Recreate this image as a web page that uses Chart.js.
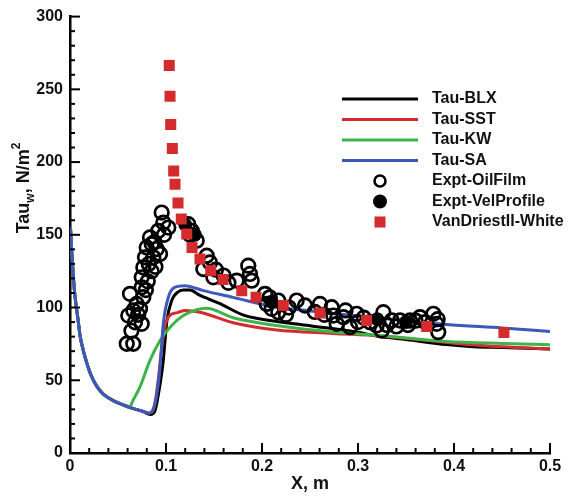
<!DOCTYPE html>
<html>
<head>
<meta charset="utf-8">
<script src="https://cdn.jsdelivr.net/npm/chart.js@4/dist/chart.umd.min.js"></script>
<style>
html,body{margin:0;padding:0;background:#fff}
</style>
</head>
<body>
<canvas id="graphe" width="573" height="496"></canvas>
<script>
// valeurs (x en m, tau en N/m2)
const descente = [[0.0005,155],[0.002,136],[0.0035,121],[0.005,109],[0.0083,92],[0.0104,81],[0.014,70],[0.0174,62],[0.0222,53],[0.0278,46],[0.0347,40.5],[0.045,36],[0.0556,33]]
const finSA = [[0.066,30.5],[0.0764,28.5],[0.0825,27.3],[0.0885,34],[0.0915,45],[0.0938,59],[0.0972,89],[0.1024,107],[0.1094,114],[0.1198,115],[0.1389,111.6],[0.17,107],[0.2153,100.2],[0.2465,98],[0.3,94],[0.35,91],[0.3924,88.4],[0.45,86],[0.5,83.6]]
const finBLX = [[0.066,30.5],[0.0764,28.5],[0.0835,26.5],[0.0885,29],[0.092,40],[0.0969,62],[0.101,91],[0.106,105],[0.112,110.5],[0.118,112],[0.125,112],[0.135,108.5],[0.155,103],[0.18,95],[0.2,92],[0.25,87.5],[0.3,83],[0.323,80],[0.35,78],[0.392,74.5],[0.42,73],[0.45,72.5],[0.5,71.5]]
const finSST = [[0.066,30.5],[0.0764,28.5],[0.083,27.5],[0.0875,31],[0.0915,48],[0.0955,72],[0.099,87],[0.103,94],[0.112,96.5],[0.12,98],[0.1354,96.8],[0.17,89.5],[0.2153,84.5],[0.274,82.2],[0.323,80.5],[0.4,75.5],[0.45,73],[0.5,71.5]]
const finKW = [[0.0625,32],[0.0655,36],[0.0729,45.4],[0.0833,63.7],[0.0938,77.4],[0.1042,86.5],[0.118,94.5],[0.132,98.5],[0.142,99.5],[0.17,93],[0.2222,87],[0.2743,83.2],[0.323,80.8],[0.392,76.7],[0.45,75.3],[0.5,74.5]]

const oilFilm = [[0.0591,75.1],[0.0659,75.1],[0.0625,109.4],[0.0607,94.5],[0.0695,102.5],[0.0677,89.9],[0.0747,88.8],[0.0729,99.1],[0.0764,107.1],[0.0747,113.9],[0.0747,120.8],[0.0764,127.6],[0.0781,134.5],[0.0799,141.3],[0.0851,143.6],[0.0903,140.2],[0.0938,136.8],[0.0868,134.5],[0.0833,148.2],[0.092,152.7],[0.0955,165.3],[0.0972,158.4],[0.1024,155],[0.1232,157.3],[0.1268,152.7],[0.1424,135.6],[0.1458,131],[0.1389,126.5],[0.1493,120.8],[0.1857,128.8],[0.1875,123.1],[0.1893,118.5],[0.1736,118.5],[0.2031,109.4],[0.2049,102.5],[0.2101,99.1],[0.217,104.8],[0.217,96.8],[0.2361,104.8],[0.2448,101.4],[0.2604,102.5],[0.2726,100.2],[0.2743,94.5],[0.2778,88.8],[0.2847,93.4],[0.2917,86.5],[0.2986,95.7],[0.3125,89.9],[0.3195,87.7],[0.3264,96.8],[0.3247,84.2],[0.3351,91.1],[0.3438,91.1],[0.3542,91.1],[0.3646,93.4],[0.3785,95.7],[0.3819,88.8],[0.3836,83.1],[0.125,150],[0.16,122],[0.165,117],[0.225,95],[0.255,97],[0.3,90],[0.33,88],
  [0.082,130],[0.085,125],[0.089,128],[0.081,118],[0.079,112],[0.071,95],[0.066,98],[0.064,84],[0.088,145],[0.098,150],[0.132,146],[0.152,126],[0.208,107],[0.228,100],[0.265,95],[0.287,98],[0.306,93],[0.34,87],[0.352,88],[0.36,91],[0.37,90],[0.383,92]]
const velProfile = [[0.12,157],[0.13,150],[0.21,104],[0.32,92],[0.35,90]]
const vanDriest = [[0.1034,266.4],[0.1042,245.2],[0.1049,225.8],[0.1066,209.4],[0.108,193.8],[0.1094,184.7],[0.1125,171.9],[0.1159,160.8],[0.1216,150.5],[0.1271,141.3],[0.1354,133.4],[0.1466,125.3],[0.1594,119.2],[0.1789,111.6],[0.1938,107.1],[0.2222,101.4],[0.2604,96.2],[0.309,91.1],[0.3716,87],[0.452,82.9]]

const noir = '#000000', rouge = '#d42c2c', vert = '#3fb24a', bleu = '#3b58bd'
const police = "'Liberation Sans', Arial, sans-serif"

const versPoints = tab => tab.map(p => ({x: p[0], y: p[1]}))

const ligne = (label, pts, couleur, ordre) => ({
  label: label, data: versPoints(pts), showLine: true, borderColor: couleur,
  borderWidth: 3, pointRadius: 0, cubicInterpolationMode: 'monotone', order: ordre, fill: false
})

// petits traits de graduation vers l'interieur
const graduations = {
  id: 'graduations',
  afterDatasetsDraw(chart) {
    const ctx = chart.ctx
    const sx = chart.scales.x, sy = chart.scales.y
    ctx.save()
    ctx.strokeStyle = '#000'
    ctx.lineWidth = 2
    for (let i = 0; i <= 25; i++) {
      const px = sx.getPixelForValue(i * 0.02)
      const l = i % 5 == 0 ? 10 : 5
      ctx.beginPath(); ctx.moveTo(px, sy.bottom); ctx.lineTo(px, sy.bottom - l); ctx.stroke()
    }
    for (let i = 0; i <= 30; i++) {
      const py = sy.getPixelForValue(i * 10)
      const l = i % 5 == 0 ? 10 : 5
      ctx.beginPath(); ctx.moveTo(sx.left, py); ctx.lineTo(sx.left + l, py); ctx.stroke()
    }
    ctx.restore()
  }
}

// titre axe y avec indice et exposant
const titreY = {
  id: 'titreY',
  afterDraw(chart) {
    const ctx = chart.ctx
    const grand = 'bold 18px ' + police, petit = 'bold 12px ' + police
    const morceaux = [['Tau', grand, 0], ['w', petit, 5], [', N/m', grand, 0], ['2', petit, -9]]
    let total = 0
    morceaux.forEach(m => { ctx.font = m[1]; total += ctx.measureText(m[0]).width })
    ctx.save()
    ctx.translate(22, 188)
    ctx.rotate(-Math.PI / 2)
    ctx.fillStyle = '#111'
    ctx.textBaseline = 'alphabetic'
    let x = -total / 2
    morceaux.forEach(m => {
      ctx.font = m[1]
      ctx.fillText(m[0], x, 7 + m[2])
      x += ctx.measureText(m[0]).width
    })
    ctx.restore()
  }
}

// legende dans le graphe
const legende = {
  id: 'legende',
  afterDraw(chart) {
    const ctx = chart.ctx
    const entrees = [
      ['Tau-BLX', 'ligne', noir], ['Tau-SST', 'ligne', rouge], ['Tau-KW', 'ligne', vert], ['Tau-SA', 'ligne', bleu],
      ['Expt-OilFilm', 'rond', noir], ['Expt-VelProfile', 'plein', noir], ['VanDriestII-White', 'carre', rouge]
    ]
    ctx.save()
    ctx.font = 'bold 16px ' + police
    ctx.textBaseline = 'middle'
    entrees.forEach((e, i) => {
      const y = 99 + i * 20.5
      if (e[1] == 'ligne') {
        ctx.strokeStyle = e[2]; ctx.lineWidth = 3
        ctx.beginPath(); ctx.moveTo(342, y); ctx.lineTo(418, y); ctx.stroke()
      } else if (e[1] == 'rond') {
        ctx.strokeStyle = '#000'; ctx.lineWidth = 2.6
        ctx.beginPath(); ctx.arc(380, y, 5.5, 0, 2 * Math.PI); ctx.stroke()
      } else if (e[1] == 'plein') {
        ctx.fillStyle = '#000'
        ctx.beginPath(); ctx.arc(380, y, 7, 0, 2 * Math.PI); ctx.fill()
      } else {
        ctx.fillStyle = rouge
        ctx.fillRect(374.5, y - 5.5, 11, 11)
      }
      ctx.fillStyle = '#111'
      ctx.fillText(e[0], 432, y)
    })
    ctx.restore()
  }
}

const graphe = new Chart(document.getElementById('graphe'), {
  type: 'scatter',
  data: {
    datasets: [
      {label: 'VanDriestII-White', data: versPoints(vanDriest), pointStyle: 'rect', pointRadius: 7.8, backgroundColor: rouge, borderColor: rouge, borderWidth: 0, order: 0},
      {label: 'Expt-VelProfile', data: versPoints(velProfile), pointRadius: 7, backgroundColor: '#000', borderColor: '#000', borderWidth: 0, order: 1},
      {label: 'Expt-OilFilm', data: versPoints(oilFilm), pointRadius: 6.8, backgroundColor: 'rgba(0,0,0,0)', borderColor: '#000', borderWidth: 2.7, order: 2},
      ligne('Tau-SA', descente.concat(finSA), bleu, 3),
      ligne('Tau-KW', descente.concat(finKW), vert, 4),
      ligne('Tau-SST', descente.concat(finSST), rouge, 5),
      ligne('Tau-BLX', descente.concat(finBLX), noir, 6)
    ]
  },
  options: {
    responsive: false,
    animation: false,
    devicePixelRatio: 1,
    layout: {padding: {top: 15, right: 23, left: 0, bottom: 0}},
    plugins: {legend: {display: false}, tooltip: {enabled: false}},
    scales: {
      x: {
        type: 'linear', min: 0, max: 0.5,
        grid: {display: false, drawTicks: false},
        border: {display: true, color: '#000', width: 2.5},
        ticks: {stepSize: 0.1, padding: 4, color: '#111', font: {family: police, size: 16, weight: 'bold'},
          callback: v => v == 0 ? '0' : v.toFixed(1)},
        title: {display: true, text: 'X, m', color: '#111', padding: {top: 0, bottom: 1}, font: {family: police, size: 18, weight: 'bold'}},
        afterFit: s => { s.height = 43 }
      },
      y: {
        type: 'linear', min: 0, max: 300,
        grid: {display: false, drawTicks: false},
        border: {display: true, color: '#000', width: 2.5},
        ticks: {stepSize: 50, padding: 7, color: '#111', font: {family: police, size: 16, weight: 'bold'}},
        afterFit: s => { s.width = 70 }
      }
    }
  },
  plugins: [graduations, titreY, legende]
})
</script>
</body>
</html>
